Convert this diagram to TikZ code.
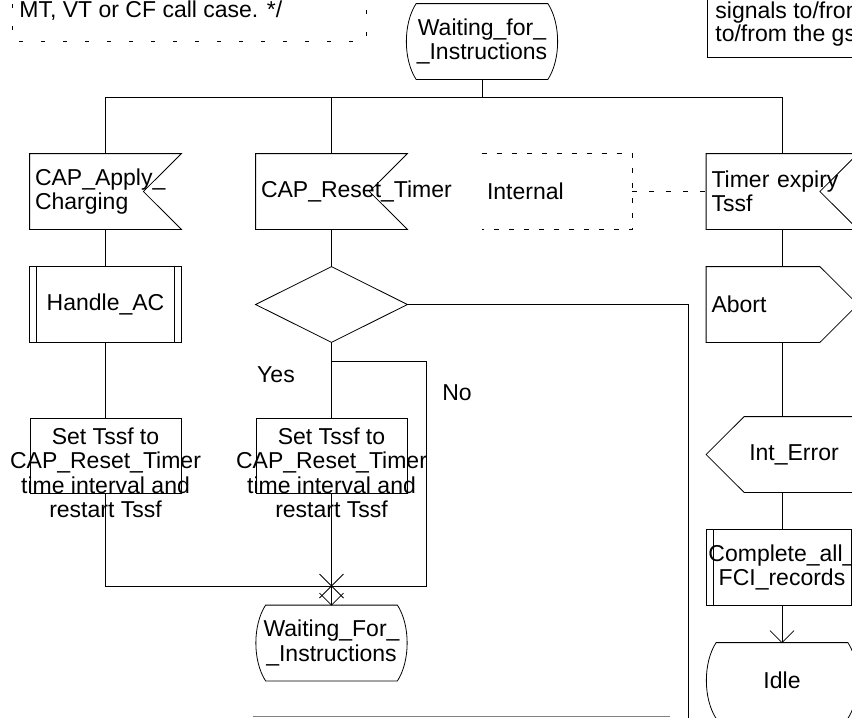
\documentclass[tikz,border=0pt]{standalone}
\usepackage{fontspec}
\setmainfont{Liberation Sans}
\usetikzlibrary{calc}

\begin{document}
\begin{tikzpicture}[x=1pt,y=-1pt,line width=0.8pt,
  every node/.style={font=\fontsize{23}{24.5}\selectfont,inner sep=0pt},
  sym/.style={minimum width=151pt,minimum height=75pt},
  lefttext/.style={sym,text width=141pt,inner xsep=5pt,align=left},
  midtext/.style={sym,align=center},
  taskbox/.style={sym,draw},
  notedash/.style={dash pattern=on 5pt off 10pt},
  linkdash/.style={dash pattern=on 5pt off 12pt}]

\fill[white] (0,0) rectangle (852,718);
\useasboundingbox (0,0) rectangle (852,718);
\clip (0,0) rectangle (852,718);

% ---- text annotations at the top edge
\draw[dash pattern=on 4pt off 18pt] (12,-40) rectangle (366,41);
\node[anchor=base west] (cmtA) at (19,17.5) {MT, VT or CF call case. */};
\draw (707,-40) rectangle (900,57);
\node[anchor=base west] (cmtB1) at (715,18.5) {signals to/from};
\node[anchor=base west] (cmtB2) at (715,41.5) {to/from the gs};

% ---- nodes
\node[midtext] (w1) at (482,41.5) {Waiting\_for\_\\\_Instructions};

\node[lefttext] (ap) at (105.5,191.5) {CAP\_Apply\_\\Charging};
\node[lefttext] (rt) at (331.5,191.5) {CAP\_Reset\_Timer};
\node[lefttext,minimum width=150pt,text width=140pt] (intc) at (557,191.5) {Internal};
\node[lefttext] (te) at (782,191.5) {Timer expiry\\Tssf};

\node[midtext] (hac) at (105.5,304.5) {Handle\_AC};
\node[sym] (dec) at (331.5,304.5) {};
\node[lefttext] (ab) at (782,304.5) {Abort};

\node[taskbox] (t1) at (105.5,455.5) {};
\node[align=center] (t1txt) at (105.5,473) {Set Tssf to\\CAP\_Reset\_Timer\\time interval and\\restart Tssf};
\node[taskbox] (t2) at (331.5,455.5) {};
\node[align=center] (t2txt) at (331.5,473) {Set Tssf to\\CAP\_Reset\_Timer\\time interval and\\restart Tssf};

\node[sym] (ie) at (782,454.5) {};
\node (ietxt) at (794,454.5) {Int\_Error};
\node[midtext] (cfr) at (782,567.5) {Complete\_all\_\\FCI\_records};

\node[midtext] (w2) at (331.5,643) {Waiting\_For\_\\\_Instructions};
\node[midtext] (idle) at (782,680.5) {Idle};

\node (yes) at (276,375) {Yes};
\node (no) at (457,393) {No};

% ---- symbol outlines
% states
\foreach \n in {w1,w2,idle}
  \draw ($(\n.north west)+(10,0)$) -- ($(\n.north east)+(-10,0)$)
    .. controls ($(\n.north east)+(3,20)$) and ($(\n.south east)+(3,-20)$) .. ($(\n.south east)+(-10,0)$)
    -- ($(\n.south west)+(10,0)$)
    .. controls ($(\n.south west)+(-3,-20)$) and ($(\n.north west)+(-3,20)$) .. cycle;
% input signals
\foreach \n in {ap,rt,te}
  \draw (\n.north west) -- (\n.north east) -- ($(\n.east)+(-38,0)$) -- (\n.south east) -- (\n.south west) -- cycle;
% output signals
\draw (ab.north west) -- ($(ab.north east)+(-38,0)$) -- (ab.east) -- ($(ab.south east)+(-38,0)$) -- (ab.south west) -- cycle;
\draw (ie.west) -- ($(ie.north west)+(38,0)$) -- (ie.north east) -- (ie.south east) -- ($(ie.south west)+(38,0)$) -- cycle;
% procedure calls
\foreach \n in {hac,cfr} {
  \draw (\n.north west) rectangle (\n.south east);
  \draw ($(\n.north west)+(7,0)$) -- ($(\n.south west)+(7,0)$);
  \draw ($(\n.north east)+(-7,0)$) -- ($(\n.south east)+(-7,0)$);
}
% decision
\draw (dec.north) -- (dec.east) -- (dec.south) -- (dec.west) -- cycle;
% comment bracket
\draw[notedash] (intc.north west) -- (intc.north east) -- (intc.south east) -- (intc.south west);

% ---- connectors
\coordinate (busL) at (105.5,97);
\coordinate (busR) at (782,97);
\coordinate (m) at (331.5,586);
\coordinate (nojoin) at (331.5,361);
\coordinate (nocorner) at (426,361);
\coordinate (offdown) at (688,730);

\draw (busL) -- (busR);
\draw (w1.south) -- (w1.south |- busL);
\draw (busL) -- (ap.north);
\draw (rt.north |- busL) -- (rt.north);
\draw (busR) -- (te.north);

\draw (ap) -- (hac);
\draw (hac) -- (t1);
\draw (t1.south) |- (m);

\draw (rt) -- (dec);
\draw (dec.south) -- (t2.north);
\draw (nojoin) -- (nocorner) |- (m);
\draw (t2.south) -- (m) -- (w2.north);
\draw ($(m)+(-12,-12)$) -- ($(m)+(12,12)$);
\draw ($(m)+(12,-12)$) -- ($(m)+(-12,12)$);
\draw ($(w2.north)+(-12,-12)$) -- (w2.north) -- ($(w2.north)+(12,-12)$);
\draw (dec.east) -| (offdown);

\draw[linkdash] (intc.east) -- (te.west);
\draw (te) -- (ab);
\draw (ab) -- (ie);
\draw (ie) -- (cfr);
\draw (cfr) -- (idle);
\draw ($(idle.north)+(-12,-12)$) -- (idle.north) -- ($(idle.north)+(12,-12)$);

\draw[gray] (253,716) -- (670,716);
\end{tikzpicture}
\end{document}
